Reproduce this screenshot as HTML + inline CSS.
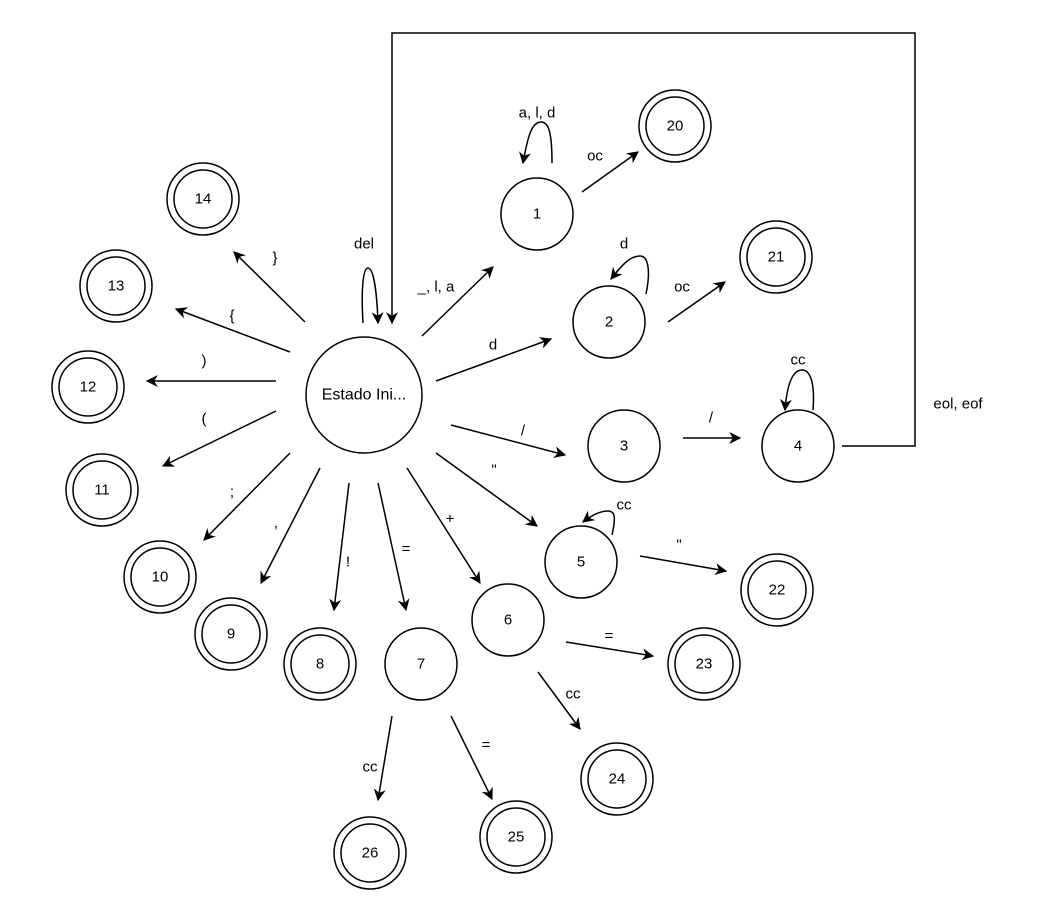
<!DOCTYPE html>
<html><head><meta charset="utf-8"><style>
html,body{margin:0;padding:0;background:#fff;}
svg{display:block;}
text{font-family:"Liberation Sans",Arial,sans-serif;font-size:15px;fill:#000;text-anchor:middle;dominant-baseline:central;}
</style></head><body>
<svg width="1037" height="917" viewBox="0 0 1037 917" xmlns="http://www.w3.org/2000/svg">
<defs>
<marker id="a" viewBox="0 0 10 10" refX="9" refY="5" markerWidth="12" markerHeight="12" markerUnits="userSpaceOnUse" orient="auto">
<path d="M0,0 L10,5 L0,10 L3,5 Z" fill="#000"/>
</marker>
</defs>
<g fill="none" stroke="#000" stroke-width="1.5">
<circle cx="364" cy="395" r="58"/>
<circle cx="537" cy="214" r="36"/>
<circle cx="609" cy="322" r="36"/>
<circle cx="624" cy="446" r="36"/>
<circle cx="798" cy="446" r="36"/>
<circle cx="581" cy="562" r="36"/>
<circle cx="508" cy="620" r="36"/>
<circle cx="421" cy="664" r="36"/>
<g>
<circle cx="675" cy="126" r="36"/><circle cx="675" cy="126" r="29"/>
<circle cx="776" cy="257" r="36"/><circle cx="776" cy="257" r="29"/>
<circle cx="777" cy="590" r="36"/><circle cx="777" cy="590" r="29"/>
<circle cx="704" cy="664" r="36"/><circle cx="704" cy="664" r="29"/>
<circle cx="617" cy="779" r="36"/><circle cx="617" cy="779" r="29"/>
<circle cx="516" cy="837" r="36"/><circle cx="516" cy="837" r="29"/>
<circle cx="370" cy="853" r="36"/><circle cx="370" cy="853" r="29"/>
<circle cx="320" cy="664" r="36"/><circle cx="320" cy="664" r="29"/>
<circle cx="231" cy="634" r="36"/><circle cx="231" cy="634" r="29"/>
<circle cx="160" cy="577" r="36"/><circle cx="160" cy="577" r="29"/>
<circle cx="102" cy="490" r="36"/><circle cx="102" cy="490" r="29"/>
<circle cx="88" cy="387" r="36"/><circle cx="88" cy="387" r="29"/>
<circle cx="116" cy="286" r="36"/><circle cx="116" cy="286" r="29"/>
<circle cx="203" cy="199" r="36"/><circle cx="203" cy="199" r="29"/>
</g>
<g marker-end="url(#a)">
<line x1="305" y1="322" x2="234" y2="252"/>
<line x1="290" y1="352" x2="176" y2="309"/>
<line x1="276" y1="381" x2="147" y2="381"/>
<line x1="276" y1="411" x2="163" y2="466"/>
<line x1="290" y1="453" x2="204" y2="540"/>
<line x1="320" y1="468" x2="261" y2="583"/>
<line x1="349" y1="483" x2="334" y2="610"/>
<line x1="378" y1="483" x2="406" y2="610"/>
<line x1="407" y1="468" x2="480" y2="583"/>
<line x1="436" y1="453" x2="537" y2="526"/>
<line x1="451" y1="425" x2="565" y2="455"/>
<line x1="436" y1="381" x2="551" y2="339"/>
<line x1="422" y1="336" x2="493" y2="267"/>
<path d="M363,323 C361,290 363,268 368,268 C374,268 377,295 378,323"/>
<path d="M392,40 L392,323"/>
<path d="M552,163 C552,130 548,122 541,122 C532,122 528,135 523,163"/>
<line x1="582" y1="192" x2="638" y2="152"/>
<path d="M646,294 C651,270 648,256 640,256 C630,256 622,265 611,279"/>
<line x1="668" y1="322" x2="725" y2="282"/>
<line x1="683" y1="438" x2="740" y2="438"/>
<path d="M813,410 C815,385 811,370 802,370 C792,370 787,385 785,410"/>
<path d="M612,535 C616,517 615,511 608,511 C600,511 592,515 583,522"/>
<line x1="640" y1="556" x2="726" y2="571"/>
<line x1="566" y1="642" x2="653" y2="656"/>
<line x1="538" y1="672" x2="580" y2="729"/>
<line x1="392" y1="716" x2="378" y2="800"/>
<line x1="451" y1="716" x2="492" y2="799"/>
</g>
<path d="M392,40 L392,33 L915,33 L915,446 L842,446"/>
</g>
<text x="364" y="395" style="font-size:16px">Estado Ini...</text>
<text x="537" y="214">1</text>
<text x="609" y="322">2</text>
<text x="624" y="446">3</text>
<text x="798" y="446">4</text>
<text x="581" y="562">5</text>
<text x="508" y="620">6</text>
<text x="421" y="664">7</text>
<text x="675" y="126">20</text>
<text x="776" y="257">21</text>
<text x="777" y="590">22</text>
<text x="704" y="664">23</text>
<text x="617" y="779">24</text>
<text x="516" y="837">25</text>
<text x="370" y="853">26</text>
<text x="320" y="664">8</text>
<text x="231" y="634">9</text>
<text x="160" y="577">10</text>
<text x="102" y="490">11</text>
<text x="88" y="387">12</text>
<text x="116" y="286">13</text>
<text x="203" y="199">14</text>
<text x="275" y="258">}</text>
<text x="232" y="316">{</text>
<text x="204" y="361">)</text>
<text x="204" y="419">(</text>
<text x="232" y="492">;</text>
<text x="276" y="523">,</text>
<text x="348" y="562">!</text>
<text x="406" y="549">=</text>
<text x="450" y="519">+</text>
<text x="494" y="470">"</text>
<text x="523" y="431">/</text>
<text x="493" y="345">d</text>
<text x="436" y="287">_, l, a</text>
<text x="364" y="244">del</text>
<text x="537" y="113">a, l, d</text>
<text x="595" y="156">oc</text>
<text x="624" y="244">d</text>
<text x="682" y="287">oc</text>
<text x="711" y="418">/</text>
<text x="798" y="360">cc</text>
<text x="624" y="505">cc</text>
<text x="679" y="545">"</text>
<text x="609" y="636">=</text>
<text x="573" y="694">cc</text>
<text x="370" y="767">cc</text>
<text x="486" y="745">=</text>
<text x="958" y="404">eol, eof</text>
</svg>
</body></html>
